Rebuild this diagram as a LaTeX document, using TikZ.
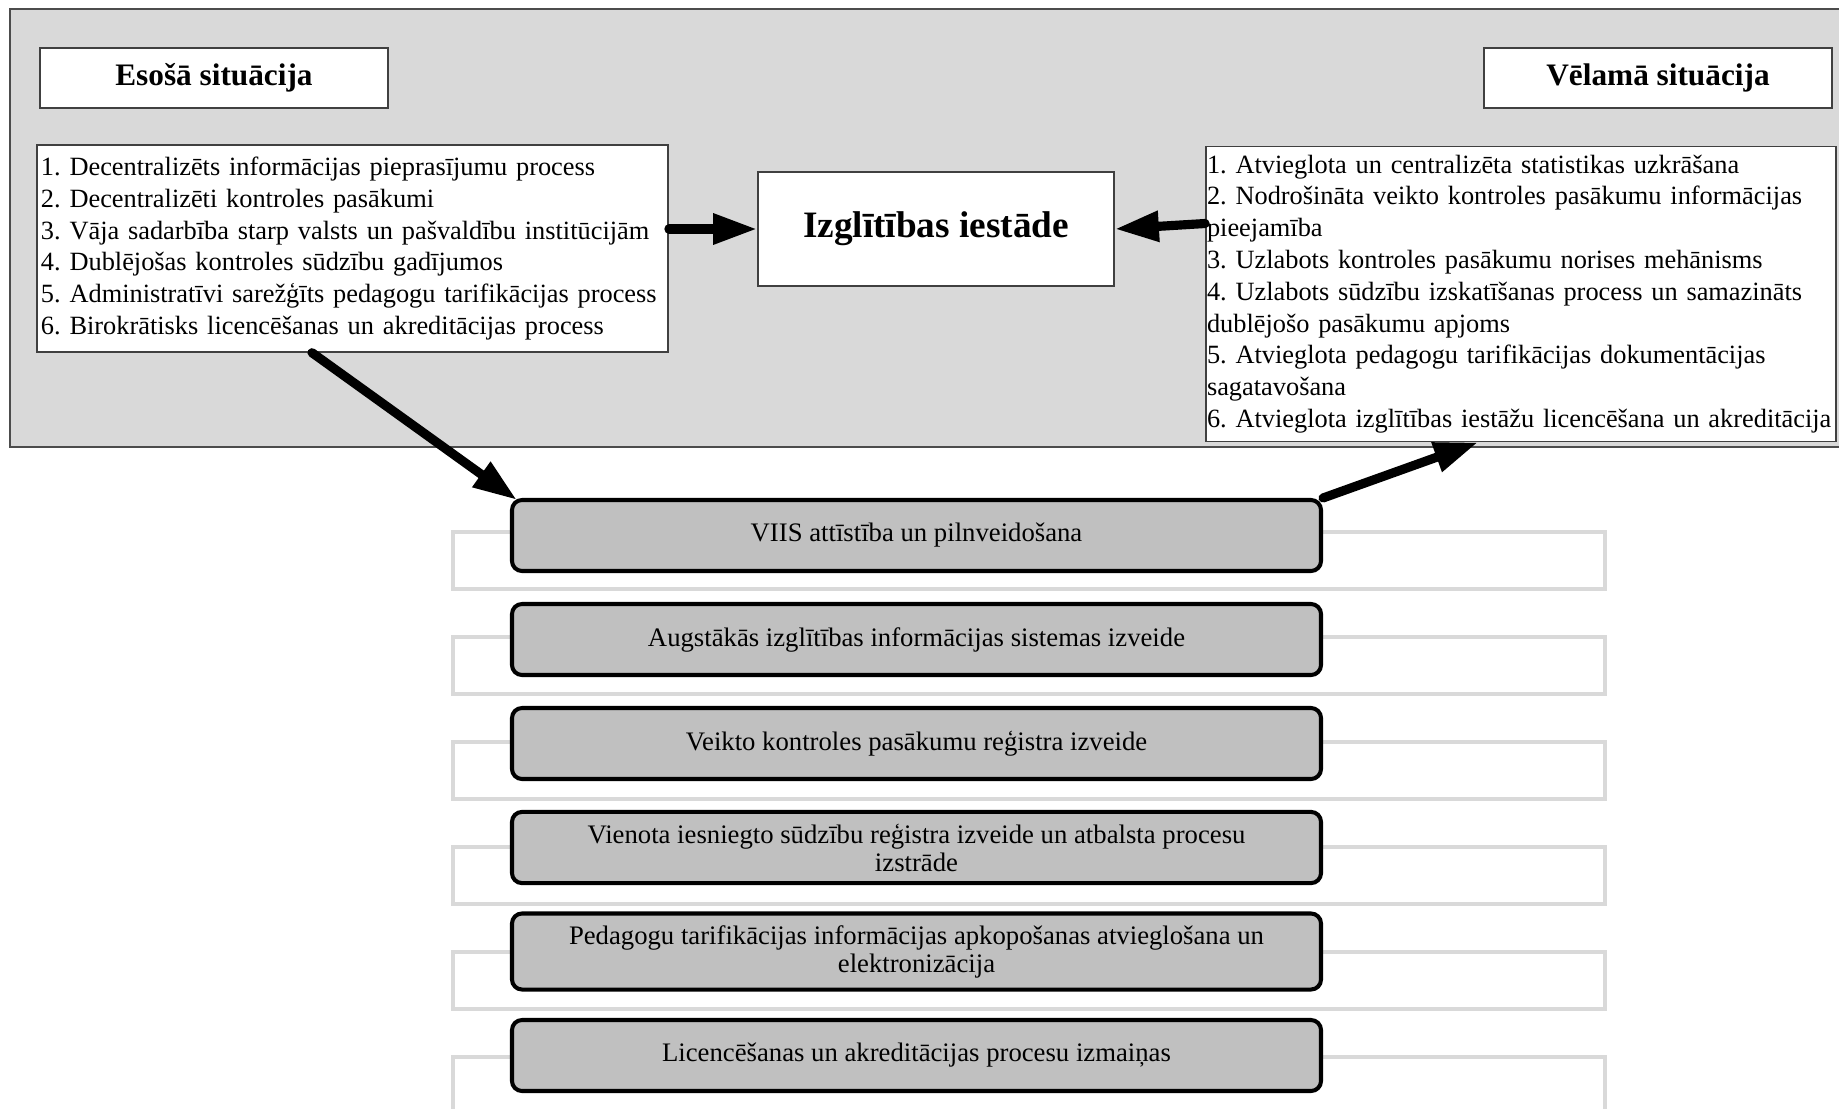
\documentclass[tikz,border=0pt]{standalone}
\usepackage{fontspec}
\setmainfont{Liberation Serif}
\usetikzlibrary{calc}
\usetikzlibrary{arrows.meta}
\definecolor{panelgrey}{RGB}{217,217,217}
\definecolor{boxgrey}{RGB}{192,192,192}
\definecolor{framegrey}{RGB}{217,217,217}
\newcommand{\listfont}{\fontsize{7.5}{9.05}\selectfont\frenchspacing}
\newcommand{\titlefont}{\fontsize{8.9}{10}\selectfont\bfseries}
\newcommand{\stepfont}{\fontsize{7.6}{8}\selectfont}

\begin{document}
\begin{tikzpicture}[
  titlebox/.style={draw=black!75,line width=0.5pt,fill=white,
    minimum width=3.48cm,minimum height=0.6cm,font=\titlefont},
  listbox/.style={draw=black!75,line width=0.5pt,fill=white,align=left,font=\listfont},
  stepbox/.style={draw=black,line width=1.15pt,fill=boxgrey,rounded corners=0.1cm,
    minimum width=8.09cm,minimum height=0.71cm,align=center,font=\stepfont},
  stepframe/.style={draw=framegrey,line width=1.15pt,fill=white},
  bigarrow/.style={line width=2.6pt,line cap=round,-{Triangle[length=0.44cm,width=0.29cm]}}]
\useasboundingbox (0,0) rectangle (18.39,-11.08);
\clip (0,0) rectangle (18.39,-11.08);
\draw[draw=black!70,line width=0.5pt,fill=panelgrey] (0.10,-0.09) rectangle (18.50,-4.47); % upper panel
\node[titlebox] (esosa) at (2.14,-0.78) {Esošā situācija};
\node[titlebox] (velama) at (16.58,-0.78) {Vēlamā situācija};
\node[listbox,minimum width=6.31cm,minimum height=2.03cm,inner xsep=0.04cm,text width=6.23cm]
  (problems) at (3.525,-2.485) {1. Decentralizēts informācijas pieprasījumu process\\
  2. Decentralizēti kontroles pasākumi\\
  3. Vāja sadarbība starp valsts un pašvaldību institūcijām\\
  4. Dublējošas kontroles sūdzību gadījumos\\
  5. Administratīvi sarežģīts pedagogu tarifikācijas process\\
  6. Birokrātisks licencēšanas un akreditācijas process};
\node[listbox,minimum width=6.30cm,minimum height=2.95cm,inner xsep=0.01cm,inner ysep=0.04cm,text width=6.28cm]
  (goals) at (15.21,-2.94) {1. Atvieglota un centralizēta statistikas uzkrāšana\\
  2. Nodrošināta veikto kontroles pasākumu informācijas\\
  pieejamība\\
  3. Uzlabots kontroles pasākumu norises mehānisms\\
  4. Uzlabots sūdzību izskatīšanas process un samazināts\\
  dublējošo pasākumu apjoms\\
  5. Atvieglota pedagogu tarifikācijas dokumentācijas\\
  sagatavošana\\
  6. Atvieglota izglītības iestāžu licencēšana un akreditācija};
\node[titlebox,minimum width=3.56cm,minimum height=1.14cm,font=\fontsize{10.6}{12}\selectfont\bfseries]
  (iestade) at (9.36,-2.29) {Izglītības iestāde};
% projects
\foreach \i/\txt in {1/{VIIS attīstība un pilnveidošana},
  2/{Augstākās izglītības informācijas sistemas izveide},
  3/{Veikto kontroles pasākumu reģistra izveide},
  4/{Vienota iesniegto sūdzību reģistra izveide un atbalsta procesu\\izstrāde},
  5/{Pedagogu tarifikācijas informācijas apkopošanas atvieglošana un\\elektronizācija},
  6/{Licencēšanas un akreditācijas procesu izmaiņas}}{
  \draw[stepframe] (4.53,{-5.32-1.05*(\i-1)}) rectangle (16.05,{-5.89-1.05*(\i-1)});
  \node[stepbox] (p\i) at (9.165,{-5.355-1.04*(\i-1)}) {\txt};
}
\draw[bigarrow] (problems.east |- iestade.west) -- (iestade.west);
\draw[bigarrow] ([yshift=0.705cm]goals.west) -- (iestade.east);
\draw[bigarrow] ([xshift=-0.405cm]problems.south) -- ([xshift=0.07cm,yshift=-0.02cm]p1.north west);
\draw[bigarrow] (p1.north east) -- ([xshift=-0.43cm]goals.south);
\end{tikzpicture}
\end{document}
